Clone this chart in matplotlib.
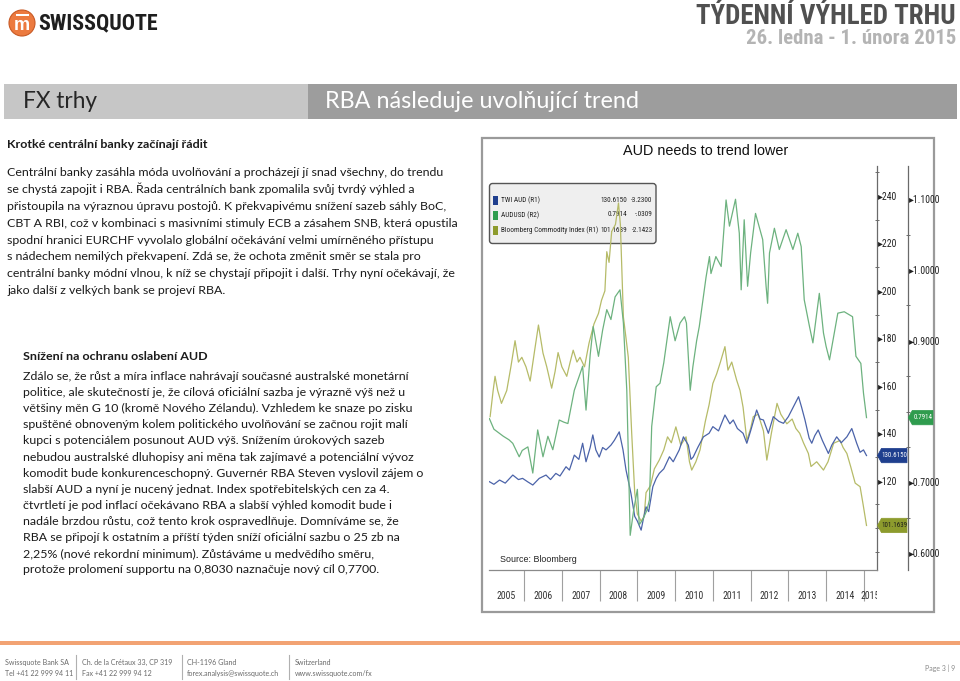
import matplotlib
matplotlib.use('Agg')
import matplotlib.pyplot as plt
from matplotlib.patches import Rectangle, Circle, FancyBboxPatch, Polygon
from matplotlib.transforms import Bbox, TransformedBbox, blended_transform_factory
from matplotlib.ticker import FixedLocator, NullFormatter

# ------------------------------------------------------------------ data
years = list(range(2005, 2016))

twi_t = [2005.08, 2005.2, 2005.35, 2005.5, 2005.7, 2005.85, 2005.96, 2006.1, 2006.23, 2006.4,
         2006.58, 2006.7, 2006.84, 2006.95, 2007.11, 2007.2, 2007.33, 2007.45, 2007.55, 2007.64,
         2007.75, 2007.82, 2007.9, 2007.99, 2008.08, 2008.17, 2008.3, 2008.39, 2008.52, 2008.62,
         2008.7, 2008.83, 2008.93, 2009.0, 2009.1, 2009.16, 2009.23, 2009.3, 2009.41, 2009.5,
         2009.58, 2009.7, 2009.85, 2009.95, 2010.11, 2010.22, 2010.35, 2010.42, 2010.48, 2010.6,
         2010.75, 2010.9, 2011.0, 2011.15, 2011.32, 2011.45, 2011.54, 2011.65, 2011.8, 2011.9,
         2012.0, 2012.16, 2012.25, 2012.34, 2012.47, 2012.6, 2012.75, 2012.87, 2013.0, 2013.09,
         2013.27, 2013.35, 2013.44, 2013.55, 2013.62, 2013.7, 2013.79, 2013.9, 2014.06, 2014.15,
         2014.28, 2014.4, 2014.55, 2014.68, 2014.81, 2014.9, 2014.99, 2015.07]
twi_v = [119.6, 118.5, 120.3, 119.0, 122.4, 120.5, 121.0, 119.5, 118.2, 121.0,
         122.4, 120.5, 123.1, 122.0, 125.9, 124.5, 130.8, 129.0, 135.8, 128.0,
         134.0, 139.3, 133.0, 130.0, 134.0, 133.0, 135.0, 137.0, 140.6, 133.0,
         124.5, 114.7, 105.0, 103.0, 99.2, 104.0, 109.0, 107.0, 117.5, 121.0,
         123.1, 125.0, 130.1, 128.0, 133.0, 138.5, 135.0, 129.0, 130.0, 134.0,
         138.5, 140.0, 142.8, 141.0, 147.7, 144.0, 145.6, 142.0, 140.0, 135.8,
         141.0, 149.8, 146.0, 145.6, 140.0, 147.0, 145.0, 144.2, 147.0, 149.8,
         155.4, 151.0, 145.6, 138.0, 135.8, 139.0, 141.4, 137.0, 131.5, 135.0,
         138.5, 136.0, 138.5, 142.0, 135.8, 132.0, 133.0, 130.615]

aud_t = [2005.08, 2005.2, 2005.35, 2005.45, 2005.6, 2005.7, 2005.87, 2005.95, 2006.1, 2006.23,
         2006.36, 2006.5, 2006.63, 2006.76, 2006.93, 2007.05, 2007.16, 2007.33, 2007.46, 2007.55,
         2007.64, 2007.75, 2007.83, 2007.97, 2008.08, 2008.19, 2008.3, 2008.41, 2008.54, 2008.63,
         2008.72, 2008.81, 2008.9, 2009.0, 2009.05, 2009.14, 2009.25, 2009.32, 2009.38, 2009.5,
         2009.6, 2009.7, 2009.87, 2010.0, 2010.13, 2010.25, 2010.3, 2010.4, 2010.47, 2010.57,
         2010.64, 2010.82, 2010.91, 2010.95, 2011.08, 2011.22, 2011.35, 2011.44, 2011.6, 2011.7,
         2011.75, 2011.83, 2011.92, 2012.0, 2012.13, 2012.32, 2012.41, 2012.45, 2012.5, 2012.63,
         2012.76, 2012.94, 2013.12, 2013.25, 2013.34, 2013.42, 2013.56, 2013.65, 2013.82, 2013.93,
         2014.0, 2014.09, 2014.31, 2014.48, 2014.7, 2014.79, 2014.92, 2014.99, 2015.07]
aud_v = [0.790, 0.775, 0.769, 0.765, 0.760, 0.755, 0.736, 0.745, 0.750, 0.713,
         0.774, 0.736, 0.765, 0.746, 0.788, 0.785, 0.783, 0.830, 0.850, 0.864,
         0.802, 0.880, 0.920, 0.878, 0.915, 0.944, 0.930, 0.962, 0.972, 0.925,
         0.830, 0.625, 0.660, 0.690, 0.640, 0.647, 0.660, 0.675, 0.779, 0.835,
         0.840, 0.869, 0.934, 0.900, 0.925, 0.934, 0.925, 0.830, 0.863, 0.900,
         0.920, 0.990, 1.019, 0.995, 1.019, 1.005, 1.099, 1.062, 1.100, 1.052,
         0.972, 1.071, 0.977, 1.024, 1.080, 1.043, 0.977, 0.953, 1.024, 1.059,
         1.029, 1.057, 1.029, 1.052, 1.033, 0.958, 0.920, 0.897, 0.967, 0.911,
         0.892, 0.873, 0.939, 0.941, 0.934, 0.878, 0.868, 0.826, 0.7914]

bcom_t = [2005.1, 2005.18, 2005.23, 2005.3, 2005.4, 2005.54, 2005.65, 2005.76, 2005.85, 2005.94,
          2006.05, 2006.16, 2006.28, 2006.38, 2006.5, 2006.6, 2006.73, 2006.82, 2006.9, 2007.0,
          2007.13, 2007.22, 2007.3, 2007.4, 2007.48, 2007.6, 2007.72, 2007.85, 2007.97, 2008.05,
          2008.14, 2008.19, 2008.25, 2008.32, 2008.42, 2008.5, 2008.55, 2008.63, 2008.7, 2008.76,
          2008.85, 2008.93, 2009.0, 2009.1, 2009.18, 2009.23, 2009.35, 2009.45, 2009.58, 2009.7,
          2009.8, 2009.9, 2010.02, 2010.15, 2010.29, 2010.38, 2010.44, 2010.55, 2010.66, 2010.8,
          2010.9, 2011.0, 2011.1, 2011.2, 2011.32, 2011.4, 2011.5, 2011.63, 2011.72, 2011.8,
          2011.9, 2012.0, 2012.07, 2012.2, 2012.34, 2012.43, 2012.55, 2012.7, 2012.8, 2012.96,
          2013.1, 2013.2, 2013.3, 2013.4, 2013.53, 2013.6, 2013.75, 2013.93, 2014.05, 2014.2,
          2014.37, 2014.45, 2014.55, 2014.65, 2014.77, 2014.9, 2014.98, 2015.07]
bcom_v = [147.0, 158.0, 164.0, 158.0, 152.6, 158.0, 168.0, 179.0, 170.0, 172.0,
          168.0, 162.0, 175.0, 185.6, 173.8, 168.0, 159.0, 166.0, 174.0, 168.0,
          164.0, 170.0, 175.0, 170.0, 172.0, 168.0, 178.0, 186.0, 190.5, 196.0,
          200.0, 216.5, 212.0, 225.0, 228.0, 237.0, 228.0, 189.0, 180.0, 172.0,
          140.0, 115.0, 106.0, 103.0, 105.0, 115.0, 118.0, 125.0, 128.7, 133.0,
          138.5, 136.0, 142.7, 135.0, 138.5, 128.0, 124.5, 128.0, 133.0, 145.0,
          152.0, 161.0, 165.0, 170.0, 176.5, 166.6, 170.0, 162.4, 158.0, 151.0,
          137.0, 142.0, 147.0, 148.0, 141.0, 128.7, 140.0, 152.6, 148.0, 144.0,
          146.0, 142.0, 140.0, 136.0, 131.5, 126.0, 128.0, 124.5, 128.0, 135.8,
          137.0, 134.0, 131.5, 126.0, 119.0, 117.5, 110.0, 101.1639]

legend_names = ['TWI AUD (R1)', 'AUDUSD (R2)', 'Bloomberg Commodity Index (R1)']
legend_chg = ['-3.2300', '-.0309', '-2.1423']
# labelled ticks (the 100 and 0.8000 labels sit under the value flags in the reference)
r1_major = [120, 140, 160, 180, 200, 220, 240]
r1_minor = [90, 100, 110, 130, 150, 170, 190, 210, 230, 250]
r2_major = [0.6, 0.7, 0.9, 1.0, 1.1]
r2_minor = [0.65, 0.75, 0.8, 0.85, 0.95, 1.05]

block1_title = 'Krotké centrální banky začínají řádit'
block1 = [
    'Centrální banky zasáhla móda uvolňování a procházejí jí snad všechny, do trendu',
    'se chystá zapojit i RBA. Řada centrálních bank zpomalila svůj tvrdý výhled a',
    'přistoupila na výraznou úpravu postojů. K překvapivému snížení sazeb sáhly BoC,',
    'CBT A RBI, což v kombinaci s masivními stimuly ECB a zásahem SNB, která opustila',
    'spodní hranici EURCHF vyvolalo globální očekávání velmi umírněného přístupu',
    's nádechem nemilých překvapení. Zdá se, že ochota změnit směr se stala pro',
    'centrální banky módní vlnou, k níž se chystají připojit i další. Trhy nyní očekávají, že',
    'jako další z velkých bank se projeví RBA.',
]
block2_title = 'Snížení na ochranu oslabení AUD'
block2 = [
    'Zdálo se, že růst a míra inflace nahrávají současné australské monetární',
    'politice, ale skutečností je, že cílová oficiální sazba je výrazně výš než u',
    'většiny měn G 10 (kromě Nového Zélandu). Vzhledem ke snaze po zisku',
    'spuštěné obnoveným kolem politického uvolňování se začnou rojit malí',
    'kupci s potenciálem posunout AUD výš. Snížením úrokových sazeb',
    'nebudou australské dluhopisy ani měna tak zajímavé a potenciální vývoz',
    'komodit bude konkurenceschopný. Guvernér RBA Steven vyslovil zájem o',
    'slabší AUD a nyní je nucený jednat. Index spotřebitelských cen za 4.',
    'čtvrtletí je pod inflací očekávano RBA a slabší výhled komodit bude i',
    'nadále brzdou růstu, což tento krok ospravedlňuje. Domníváme se, že',
    'RBA se připojí k ostatním a příští týden sníží oficiální sazbu o 25 zb na',
    '2,25% (nové rekordní minimum). Zůstáváme u medvědího směru,',
    'protože prolomení supportu na 0,8030 naznačuje nový cíl 0,7700.',
]
footer_cols = [
    ('Swissquote Bank SA', 'Tel +41 22 999 94 11'),
    ('Ch. de la Crétaux 33, CP 319', 'Fax +41 22 999 94 12'),
    ('CH-1196 Gland', 'forex.analysis@swissquote.ch'),
    ('Switzerland', 'www.swissquote.com/fx'),
]

# ------------------------------------------------------------------ setup
W, H = 960, 681
NARROW = ['Liberation Sans Narrow', 'Roboto Condensed', 'Liberation Sans', 'DejaVu Sans']
BODY = ['Lato', 'Open Sans', 'DejaVu Sans']
SANS = ['Liberation Sans', 'DejaVu Sans']

fig = plt.figure(figsize=(W / 100, H / 100), dpi=100)
page = fig.add_axes([0, 0, 1, 1], zorder=0)
page.set_xlim(0, W); page.set_ylim(H, 0); page.axis('off')
top = fig.add_axes([0, 0, 1, 1], zorder=20)
top.set_xlim(0, W); top.set_ylim(H, 0); top.axis('off')
renderer = fig.canvas.get_renderer()


def fit(t, width):
    w = t.get_window_extent(renderer).width
    t.set_fontsize(t.get_fontsize() * width / w)
    return t


# ------------------------------------------------------------------ header
page.add_patch(Circle((22, 23), 13, fc='#ec7a3f', ec='#c85a25', lw=0.8))
page.add_patch(Rectangle((15.5, 13.5), 13, 2, fc='white', ec='none'))
page.text(22, 25, 'm', color='white', fontsize=13, fontweight='bold', ha='center', va='center',
          family=SANS)
fit(page.text(38, 23, 'SWISSQUOTE', color='#1e1e1e', fontsize=16, fontweight='bold',
              ha='left', va='center', family=NARROW), 120)
fit(page.text(956, 16, 'TÝDENNÍ VÝHLED TRHU', color='#505050', fontsize=16, fontweight='bold',
              ha='right', va='center', family=NARROW), 261)
fit(page.text(956, 39, '26. ledna - 1. února 2015', color='#b4b4b4', fontsize=12,
              fontweight='bold', ha='right', va='center', family=NARROW), 210)

page.add_patch(Rectangle((4, 84.3), 304.3, 34.7, fc='#c6c6c6', ec='none'))
page.add_patch(Rectangle((308.3, 84.3), 648.7, 34.7, fc='#9d9d9d', ec='none'))
fit(page.text(22.7, 102, 'FX trhy', color='#262626', fontsize=15, ha='left', va='center',
              family=BODY), 74)
fit(page.text(324.6, 102, 'RBA následuje uvolňující trend', color='white', fontsize=15,
              ha='left', va='center', family=BODY), 315)

# ------------------------------------------------------------------ text blocks
TXT = '#1b1b1b'
ref = page.text(7.3, 0, block1[3], fontsize=9, family=BODY)
fit(ref, 446.7)
fs1 = ref.get_fontsize()
ref.remove()
ref = page.text(22.7, 0, block2[0], fontsize=9, family=BODY)
fit(ref, 392.3)
fs2 = ref.get_fontsize()
ref.remove()
fsb = (fs1 + fs2) / 2

h1 = page.text(7.3, 147.6, block1_title, fontsize=fsb, fontweight='bold', color=TXT,
               family=BODY, va='baseline')
fit(h1, 199.7)
for i, line in enumerate(block1):
    page.text(7.3, 172.7 + 3.4 + i * 16.86, line, fontsize=fsb, color=TXT, family=BODY,
              va='baseline')

h2 = page.text(22.7, 360.0, block2_title, fontsize=fsb, fontweight='bold', color=TXT,
               family=BODY, va='baseline')
fit(h2, 184)
for i, line in enumerate(block2):
    page.text(22.7, 376.7 + 3.4 + i * 16.1, line, fontsize=fsb, color=TXT, family=BODY,
              va='baseline')

# ------------------------------------------------------------------ chart frame
page.add_patch(Rectangle((482, 138), 452, 474, fc='white', ec='#9a9a9a', lw=1.6))
fit(page.text(706, 151, 'AUD needs to trend lower', color='#111111', fontsize=11,
              ha='center', va='center', family=SANS), 164)

# legend box (below the lines)
page.add_patch(FancyBboxPatch((489.5, 183.5), 166.5, 60, boxstyle='round,pad=0,rounding_size=3',
                              fc='#efefef', ec='#555555', lw=1.0))
ser_colors = ['#1f3f8e', '#2f9c4e', '#8d9b2d']
row_y = [200, 215, 230.5]
last_vals = [twi_v[-1], aud_v[-1], bcom_v[-1]]
leg_texts = []
for i in range(3):
    page.add_patch(Rectangle((492.5, row_y[i] - 4.5), 5.5, 9, fc=ser_colors[i], ec='none'))
    t = page.text(501, row_y[i], legend_names[i], fontsize=7, color='#222222', family=NARROW,
                  ha='left', va='center')
    if i == 2:
        fit(t, 96.7)
    leg_texts.append(t)
    leg_texts.append(page.text(627.7, row_y[i], f'{last_vals[i]:.4f}', fontsize=7,
                               color='#222222', family=NARROW, ha='right', va='center'))
    leg_texts.append(page.text(652.7, row_y[i], legend_chg[i], fontsize=7, color='#222222',
                               family=NARROW, ha='right', va='center'))
fsl = leg_texts[6].get_fontsize()
for t in leg_texts:
    t.set_fontsize(fsl)

# ------------------------------------------------------------------ chart axes
PL, PR, PT, PB = 489.0, 876.7, 166.0, 570.0
ax = fig.add_axes([PL / W, 1 - PB / H, (PR - PL) / W, (PB - PT) / H], zorder=5)
ax.patch.set_alpha(0)
ax.set_xlim(2005.07, 2015.34)
ax.set_ylim(82.4, 252.6)
ax2 = ax.twinx()
ax2.set_zorder(6)
ax2.patch.set_alpha(0)
ax2.set_ylim(0.576, 1.147)

ax.plot(bcom_t, bcom_v, color='#b6bb68', lw=0.9)
ax.plot(twi_t, twi_v, color='#4b63a9', lw=0.9)
ax2.plot(aud_t, aud_v, color='#6db27f', lw=0.9)

for s in ['left', 'top']:
    ax.spines[s].set_visible(False)
    ax2.spines[s].set_visible(False)
ax2.spines['bottom'].set_visible(False)
ax.spines['bottom'].set_color('#8a8a8a')
ax.spines['bottom'].set_linewidth(0.9)
ax.spines['right'].set_visible(True)
ax.spines['right'].set_color('#6a6a6a')
ax.spines['right'].set_linewidth(0.9)

ax.yaxis.tick_right()
ax.yaxis.set_major_locator(FixedLocator(r1_major))
ax.yaxis.set_minor_locator(FixedLocator(r1_minor))
ax.set_yticklabels(['\u25b8' + str(v) for v in r1_major])
ax.tick_params(axis='y', which='major', length=0, pad=1, labelsize=7, labelcolor='#222222')
ax.tick_params(axis='y', which='minor', length=2.2, width=0.6, color='#555555',
               direction='inout')
for lb in ax.get_yticklabels():
    lb.set_family(NARROW)

ax2.yaxis.set_major_locator(FixedLocator(r2_major))
ax2.yaxis.set_minor_locator(FixedLocator(r2_minor))
ax2.set_yticklabels(['\u25b8' + f'{v:.4f}' for v in r2_major])
ax2.spines['right'].set_visible(True)
ax2.spines['right'].set_position(('outward', (907.7 - PR) * 72 / 100))
ax2.spines['right'].set_color('#6a6a6a')
ax2.spines['right'].set_linewidth(0.9)
ax2.tick_params(axis='y', which='major', length=0, pad=1, labelsize=7, labelcolor='#222222')
ax2.tick_params(axis='y', which='minor', length=2.2, width=0.6, color='#555555',
                direction='inout')
for lb in ax2.get_yticklabels():
    lb.set_family(NARROW)

# x axis: year separators and clipped year labels
ax.set_xticks(years[1:])
ax.xaxis.set_major_formatter(NullFormatter())
ax.tick_params(axis='x', which='major', length=31 * 0.72, width=0.8, color='#a0a0a0',
               direction='out')
x0, x1 = ax.get_xlim()
trans = blended_transform_factory(ax.transData, ax.transAxes)
clipbox = TransformedBbox(Bbox([[0, -0.5], [1, 1]]), ax.transAxes)
lab_y = -(595.7 - PB) / (PB - PT)
for y in years:
    c = (max(y, x0) + min(y + 1, x1)) / 2
    t = ax.text(c, lab_y, str(y), transform=trans, ha='center', va='center', fontsize=7,
                color='#333333', family=NARROW)
    t.set_clip_path(None)
    t.set_clip_on(True)
    t.set_clip_box(clipbox)

fit(page.text(500, 560, 'Source: Bloomberg', fontsize=8, color='#222222', family=SANS,
              ha='left', va='center'), 76.7)

# value flags on the axes
inv = top.transData.inverted()


def flag(axis, tx, v, xl, xr, fc, tc, s):
    yc = inv.transform(axis.transData.transform((tx, v)))[1]
    h = 7.2
    top.add_patch(Polygon([[xl, yc], [xl + 4, yc - h], [xr, yc - h], [xr, yc + h],
                           [xl + 4, yc + h]], closed=True, fc=fc, ec=fc, lw=0.5))
    top.text((xl + 4 + xr) / 2, yc, s, color=tc, fontsize=fsl * 0.95, ha='center',
             va='center', family=NARROW)


flag(ax, twi_t[-1], twi_v[-1], 877.5, 907, '#1f3f8e', 'white', f'{twi_v[-1]:.4f}')
flag(ax2, aud_t[-1], aud_v[-1], 908.3, 933, '#2f9c4e', 'white', f'{aud_v[-1]:.4f}')
flag(ax, bcom_t[-1], bcom_v[-1], 877.5, 907, '#8d9b2d', '#1a1a1a', f'{bcom_v[-1]:.4f}')

# ------------------------------------------------------------------ footer
page.add_patch(Rectangle((0, 641), W, 4, fc='#f2a373', ec='none'))
col_x = [5, 82, 187, 294.5]
sep_x = [76, 182, 289]
ft = page.text(col_x[0], 662.3, footer_cols[0][0], fontsize=6, color='#6a6a6a', family=BODY,
               va='center')
fit(ft, 64)
ffs = ft.get_fontsize()
ft.remove()
for x, (a, b) in zip(col_x, footer_cols):
    page.text(x, 662.3, a, fontsize=ffs, color='#6a6a6a', family=BODY, va='center')
    page.text(x, 673.3, b, fontsize=ffs, color='#6a6a6a', family=BODY, va='center')
for x in sep_x:
    page.plot([x, x], [655, 679], color='#b0b0b0', lw=0.8)
fit(page.text(955, 668, 'Page 3 | 9', fontsize=8, color='#8a8a8a', family=BODY, ha='right',
              va='center'), 30.6)

fig.savefig('out.png', dpi=100)
